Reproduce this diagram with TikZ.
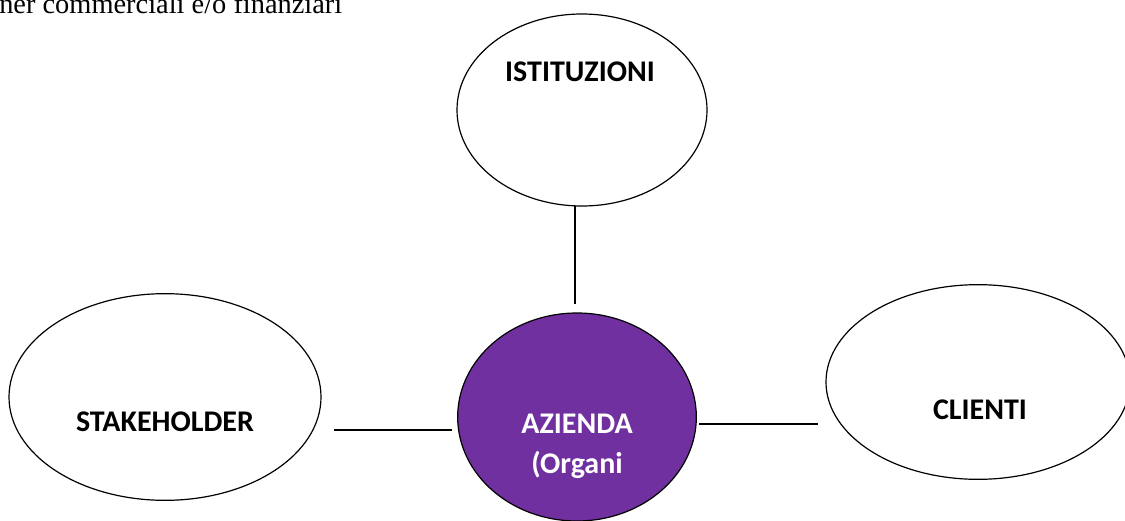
\documentclass[tikz,border=0pt]{standalone}
\usepackage{fontspec}
\setmainfont{Liberation Serif}
\newfontfamily\calibri{Carlito}
\usetikzlibrary{shapes.geometric}
\definecolor{viola}{HTML}{7030A0}
\tikzstyle{bolla}=[ellipse,draw=black,line width=0.9pt,fill=white,inner sep=0pt]
\tikzstyle{scritta}=[font=\calibri\bfseries\fontsize{22.5}{30}\selectfont,align=center,inner sep=0pt]
\tikzstyle{filo}=[line width=1pt]

\begin{document}
\begin{tikzpicture}[x=0.75pt,y=-0.75pt]
\useasboundingbox (0,0) rectangle (1125,521);
\node[anchor=base west,inner sep=0pt,font=\fontsize{21.3}{25}\selectfont] at (-1,13) (nota) {ner commerciali e/o finanziari};
\node[bolla, minimum width=187.5pt, minimum height=144pt] at (582, 110) (ist) {};
\node[bolla, minimum width=234pt, minimum height=155pt] at (165, 397) (stk) {};
\node[bolla, minimum width=228pt, minimum height=146pt] at (978, 382) (cli) {};
\node[bolla, fill=viola, minimum width=179pt, minimum height=156pt] at (577, 417) (az) {};
\node[scritta] at (580, 72) (istT) {ISTITUZIONI};
\node[scritta] at (165, 422) (stkT) {STAKEHOLDER};
\node[scritta] at (980, 410) (cliT) {CLIENTI};
\node[scritta, text=white] at (577, 446) (azT) {AZIENDA\\(Organi};
\coordinate (su1) at (575, 206);
\coordinate (su2) at (575, 304);
\coordinate (sx1) at (334, 430);
\coordinate (sx2) at (452, 430);
\coordinate (dx1) at (699, 424);
\coordinate (dx2) at (818, 424);
\draw[filo] (su1) -- (su2);
\draw[filo] (sx1) -- (sx2);
\draw[filo] (dx1) -- (dx2);
\end{tikzpicture}
\end{document}
